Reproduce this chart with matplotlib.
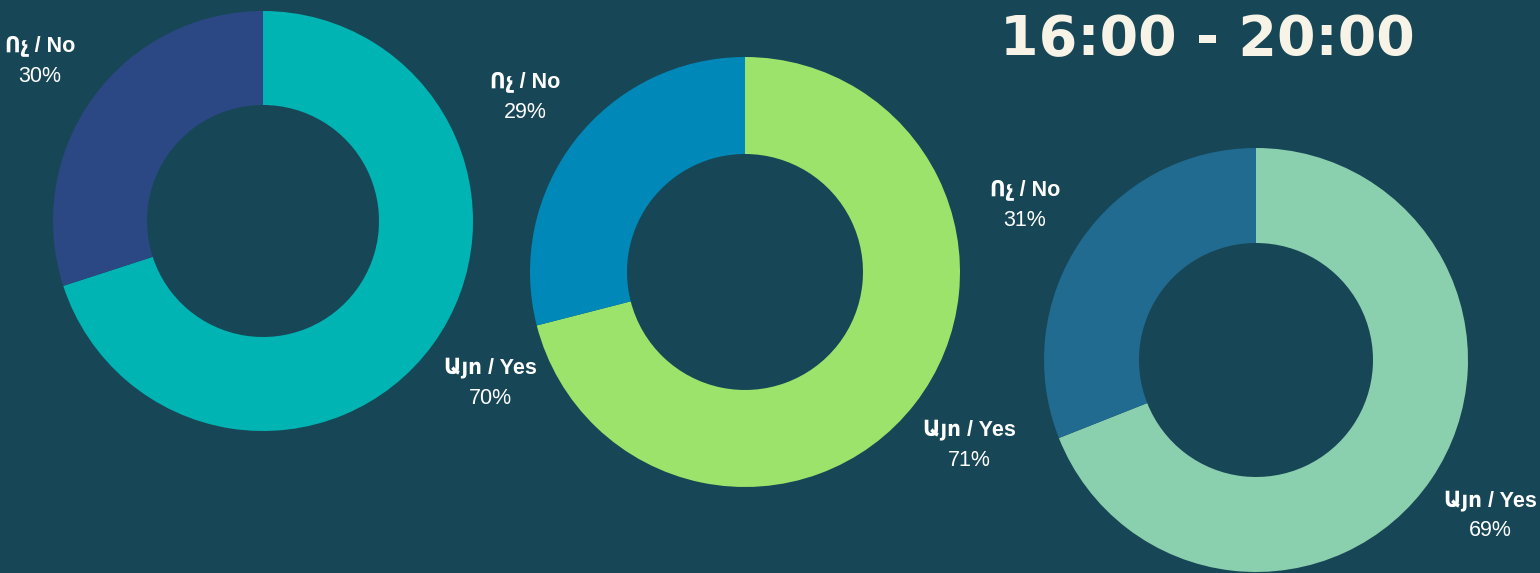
import matplotlib
matplotlib.use("Agg")
import matplotlib.pyplot as plt

W, H = 1540, 573
BG = "#174756"

labels_cat = ["Այո / Yes", "Ոչ / No"]
values_1 = [70, 30]
values_2 = [71, 29]
values_3 = [69, 31]
colors_1 = ["#00B4B4", "#2B4884"]
colors_2 = ["#9BE36A", "#0088B9"]
colors_3 = ["#8ACFAE", "#216A90"]
title = "16:00 - 20:00"

plt.rcParams['font.family'] = ['Liberation Sans', 'DejaVu Sans']

fig = plt.figure(figsize=(W / 100, H / 100), dpi=100, facecolor=BG)
ax = fig.add_axes([0, 0, 1, 1])
ax.set_facecolor(BG)

donuts = [
    (values_1, colors_1, (263, 221), 210, 94,
     [(490, 368), (40, 46)]),
    (values_2, colors_2, (745, 272), 215, 97,
     [(969, 430), (525, 82)]),
    (values_3, colors_3, (1256, 360), 212, 95,
     [(1490, 501), (1025, 190)]),
]

for vals, cols, (cx, cy), r, w, lab_pos in donuts:
    ax.pie(vals, colors=cols, center=(cx, H - cy), radius=r, startangle=90,
           counterclock=False, wedgeprops=dict(width=w, linewidth=0),
           frame=True)
    for name, v, (lx, ly) in zip(labels_cat, vals, lab_pos):
        ax.text(lx, H - ly, name, ha="center", va="center", color="white",
                fontsize=15.5, fontweight="bold")
        ax.text(lx, H - ly - 30, f"{v}%", ha="center", va="center",
                color="white", fontsize=15.5)

ax.text(1207, H - 40, title, ha="center", va="center", color="#F7F3E6",
        fontsize=40, fontweight="bold", family=["DejaVu Sans"])

ax.set_xlim(0, W)
ax.set_ylim(0, H)
ax.set_aspect("auto")
ax.axis("off")

fig.savefig("out.png", dpi=100, facecolor=BG)
